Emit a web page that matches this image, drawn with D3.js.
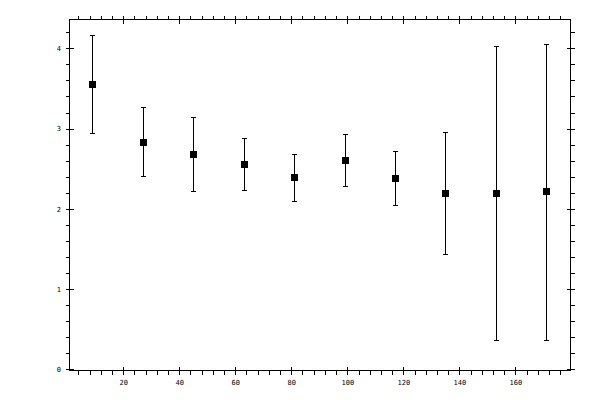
<!DOCTYPE html>
<html>
<head>
<meta charset="utf-8">
<script src="https://cdn.jsdelivr.net/npm/d3@7"></script>
<style>
  html, body { margin: 0; padding: 0; background: #fff; }
  svg { display: block; }
  text { font-family: "DejaVu Sans Mono", monospace; font-size: 7px; fill: #000; }
</style>
</head>
<body>
<svg id="chart" width="600" height="400"></svg>
<script>
// Data
const xValues = [9, 27, 45, 63, 81, 99, 117, 135, 153, 171];
const yValues = [3.55, 2.83, 2.68, 2.55, 2.39, 2.60, 2.38, 2.19, 2.19, 2.21];
const yUpper  = [4.16, 3.26, 3.14, 2.88, 2.68, 2.92, 2.72, 2.95, 4.02, 4.05];
const yLower  = [2.94, 2.40, 2.22, 2.23, 2.09, 2.28, 2.04, 1.43, 0.36, 0.36];
const xMajorTicks = [20, 40, 60, 80, 100, 120, 140, 160];
const yMajorTicks = [0, 1, 2, 3, 4];

(function () {
const svg = d3.select("#chart");
const pLeft = 69.5, pRight = 570.5, pTop = 19.5, pBottom = 370.5;

const x = d3.scaleLinear().domain([0.8, 179.7]).range([pLeft, pRight]);
const y = d3.scaleLinear().domain([-0.015, 4.359]).range([pBottom, pTop]);

const xMinor = d3.range(4, 180, 4).filter(v => v % 20 !== 0 && v > 0.8 && v < 179.7);
const yMinor = d3.range(1, 22).map(i => +(i * 0.2).toFixed(2)).filter(v => Math.abs(v - Math.round(v)) > 1e-6 && v < 4.359);

const g = svg.append("g").attr("shape-rendering", "crispEdges");

// Frame
g.append("rect")
  .attr("x", pLeft).attr("y", pTop)
  .attr("width", pRight - pLeft).attr("height", pBottom - pTop)
  .attr("fill", "none").attr("stroke", "#000").attr("stroke-width", 1);

function styleAxis(sel) {
  sel.select(".domain").remove();
  sel.selectAll("line").attr("stroke", "#000").attr("stroke-width", 1);
}
function styleText(sel) {
  sel.selectAll("text").attr("font-family", "DejaVu Sans Mono").attr("font-size", 7).attr("fill", "#000");
}

// Bottom axis
g.append("g").attr("transform", `translate(0,${pBottom})`)
  .call(d3.axisBottom(x).tickValues(xMajorTicks).tickSize(4).tickSizeOuter(0).tickPadding(5.5).tickFormat(d3.format("d")))
  .call(styleAxis).call(styleText);
g.append("g").attr("transform", `translate(0,${pBottom})`)
  .call(d3.axisTop(x).tickValues(xMajorTicks).tickSize(4).tickSizeOuter(0).tickFormat(""))
  .call(styleAxis);
g.append("g").attr("transform", `translate(0,${pBottom})`)
  .call(d3.axisBottom(x).tickValues(xMinor).tickSize(4).tickSizeOuter(0).tickFormat(""))
  .call(styleAxis);

// Top axis
g.append("g").attr("transform", `translate(0,${pTop})`)
  .call(d3.axisTop(x).tickValues(xMajorTicks).tickSize(4).tickSizeOuter(0).tickFormat(""))
  .call(styleAxis);
g.append("g").attr("transform", `translate(0,${pTop})`)
  .call(d3.axisBottom(x).tickValues(xMajorTicks).tickSize(4).tickSizeOuter(0).tickFormat(""))
  .call(styleAxis);
g.append("g").attr("transform", `translate(0,${pTop})`)
  .call(d3.axisTop(x).tickValues(xMinor).tickSize(4).tickSizeOuter(0).tickFormat(""))
  .call(styleAxis);

// Left axis
g.append("g").attr("transform", `translate(${pLeft},0)`)
  .call(d3.axisLeft(y).tickValues(yMajorTicks).tickSize(4).tickSizeOuter(0).tickPadding(4.5).tickFormat(d3.format("d")))
  .call(styleAxis).call(styleText);
g.append("g").attr("transform", `translate(${pLeft},0)`)
  .call(d3.axisRight(y).tickValues(yMajorTicks).tickSize(4).tickSizeOuter(0).tickFormat(""))
  .call(styleAxis);
g.append("g").attr("transform", `translate(${pLeft},0)`)
  .call(d3.axisLeft(y).tickValues(yMinor).tickSize(4).tickSizeOuter(0).tickFormat(""))
  .call(styleAxis);

// Right axis
g.append("g").attr("transform", `translate(${pRight},0)`)
  .call(d3.axisLeft(y).tickValues(yMajorTicks).tickSize(4).tickSizeOuter(0).tickFormat(""))
  .call(styleAxis);
g.append("g").attr("transform", `translate(${pRight},0)`)
  .call(d3.axisRight(y).tickValues(yMajorTicks).tickSize(4).tickSizeOuter(0).tickFormat(""))
  .call(styleAxis);
g.append("g").attr("transform", `translate(${pRight},0)`)
  .call(d3.axisRight(y).tickValues(yMinor).tickSize(4).tickSizeOuter(0).tickFormat(""))
  .call(styleAxis);

// Error bars and markers
const data = xValues.map((xv, i) => ({ x: xv, y: yValues[i], hi: yUpper[i], lo: yLower[i] }));
const pts = g.append("g").selectAll("g").data(data).join("g");
const capHalf = 2.5, markerHalf = 3.5;
const cx = d => Math.round(x(d.x)) + 0.5;

pts.append("line")
  .attr("x1", cx).attr("x2", cx)
  .attr("y1", d => y(d.hi)).attr("y2", d => y(d.lo))
  .attr("stroke", "#000").attr("stroke-width", 1);
pts.append("line")
  .attr("x1", d => cx(d) - capHalf).attr("x2", d => cx(d) + capHalf)
  .attr("y1", d => y(d.hi)).attr("y2", d => y(d.hi))
  .attr("stroke", "#000").attr("stroke-width", 1);
pts.append("line")
  .attr("x1", d => cx(d) - capHalf).attr("x2", d => cx(d) + capHalf)
  .attr("y1", d => y(d.lo)).attr("y2", d => y(d.lo))
  .attr("stroke", "#000").attr("stroke-width", 1);
pts.append("rect")
  .attr("x", d => cx(d) - markerHalf)
  .attr("y", d => y(d.y) - markerHalf)
  .attr("width", markerHalf * 2).attr("height", markerHalf * 2)
  .attr("fill", "#000");
})();
</script>
</body>
</html>
